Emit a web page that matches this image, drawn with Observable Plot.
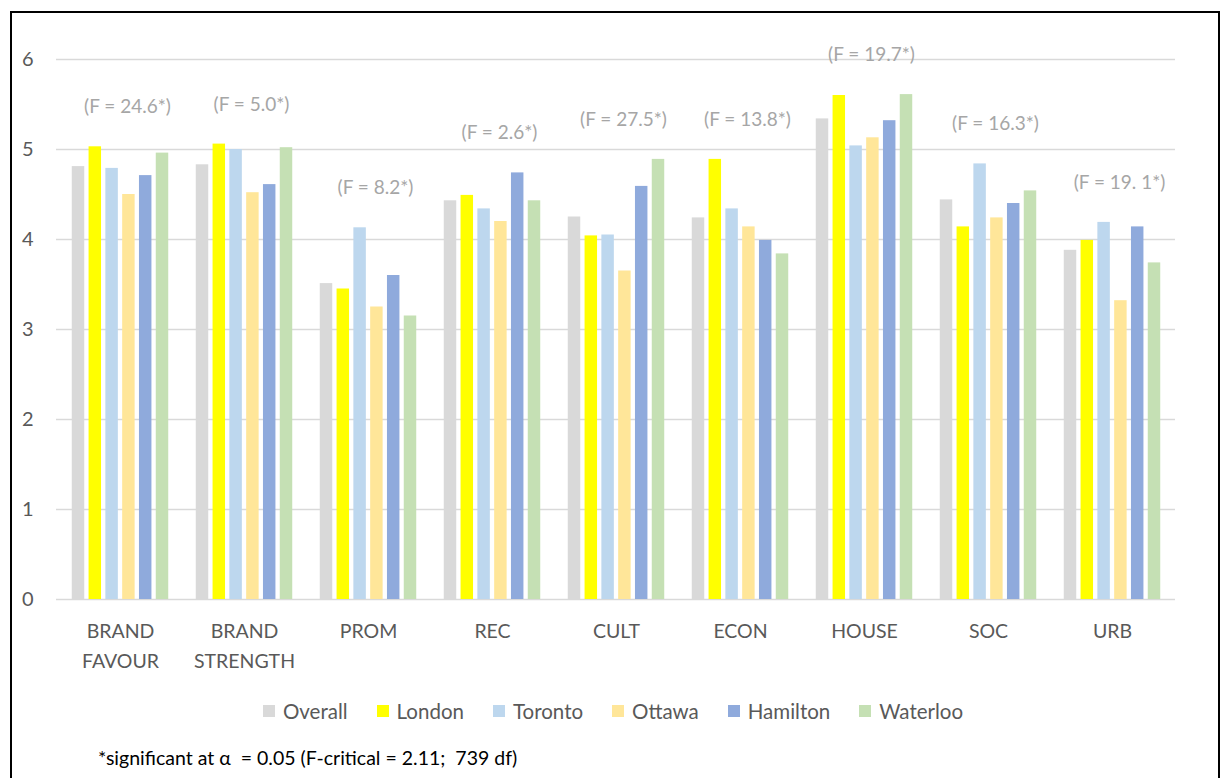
<!DOCTYPE html>
<html>
<head>
<meta charset="utf-8">
<script src="https://cdn.jsdelivr.net/npm/d3@7"></script>
<script src="https://cdn.jsdelivr.net/npm/@observablehq/plot@0.6"></script>
<style>
  html, body { margin: 0; padding: 0; background: #fff; }
  body { width: 1224px; height: 778px; position: relative; overflow: hidden; font-family: Lato, "Open Sans", sans-serif; }
  #frame { position: absolute; left: 10px; top: 11px; width: 1210px; height: 800px; border: 2px solid #000; box-sizing: border-box; }
  #chart { position: absolute; left: 0; top: 0; }
  #legend { position: absolute; left: 0; width: 1226px; top: 699px; display: flex; justify-content: center; gap: 29px; font-size: 20.5px; color: #595959; }
  #legend .item { display: flex; align-items: center; gap: 8px; }
  #legend .sw { width: 12px; height: 12px; display: inline-block; }
  #note { position: absolute; left: 98px; top: 746px; font-size: 19.5px; color: #000; }
</style>
</head>
<body>
<div id="frame"></div>
<div id="chart"></div>
<div id="legend"></div>
<div id="note">*significant at α&nbsp; = 0.05 (F-critical = 2.11;&nbsp; 739 df)</div>
<script>
const categories = ["BRAND\nFAVOUR", "BRAND\nSTRENGTH", "PROM", "REC", "CULT", "ECON", "HOUSE", "SOC", "URB"];
const series = ["Overall", "London", "Toronto", "Ottawa", "Hamilton", "Waterloo"];
const overall  = [4.81, 4.83, 3.51, 4.43, 4.25, 4.24, 5.34, 4.44, 3.88];
const london   = [5.03, 5.06, 3.45, 4.49, 4.04, 4.89, 5.60, 4.14, 3.99];
const toronto  = [4.79, 5.00, 4.13, 4.34, 4.05, 4.34, 5.04, 4.84, 4.19];
const ottawa   = [4.50, 4.52, 3.25, 4.20, 3.65, 4.14, 5.13, 4.24, 3.32];
const hamilton = [4.71, 4.61, 3.60, 4.74, 4.59, 3.99, 5.32, 4.40, 4.14];
const waterloo = [4.96, 5.02, 3.15, 4.43, 4.89, 3.84, 5.61, 4.54, 3.74];
const fStats   = ["24.6", "5.0", "8.2", "2.6", "27.5", "13.8", "19.7", "16.3", "19. 1"];
const yTicks   = [0, 1, 2, 3, 4, 5, 6];
const colors   = ["#d9d9d9", "#ffff00", "#bdd7ee", "#ffe699", "#8faadc", "#c5e0b4"];

const valuesBySeries = [overall, london, toronto, ottawa, hamilton, waterloo];
const rows = [];
series.forEach((s, i) => categories.forEach((c, j) => rows.push({series: s, category: c, value: valuesBySeries[i][j]})));
const fRows = categories.map((c, j) => ({
  category: c,
  f: fStats[j],
  top: d3.max(valuesBySeries, v => v[j])
}));

const W = 1224, H = 690;
const mL = 56, mR = 49;
const step = (W - mL - mR) / categories.length;
const pitch = 16.8, barW = 12.8;
const inset = (step - barW) / 2;

const marks = [
  Plot.ruleY(yTicks, {stroke: "#d9d9d9", strokeWidth: 1.6}),
  ...series.map((s, i) => Plot.barY(rows.filter(d => d.series === s), {
    x: "category", y: "value", fill: colors[i],
    insetLeft: inset, insetRight: inset, dx: (i - 2.5) * pitch
  })),
  Plot.text(fRows, {x: "category", y: d => d.top + 0.44, text: d => `(F = ${d.f}*)`, fill: "#a6a6a6", fontSize: 19, dx: 7}),
  Plot.axisY({ticks: yTicks, tickFormat: "d", tickSize: 0, tickPadding: 23, fontSize: 20, fill: "#595959", label: null}),
  Plot.axisX({tickSize: 0, tickPadding: 18, fontSize: 19.5, fill: "#595959", lineHeight: 1.5, label: null})
];

const chart = Plot.plot({
  width: W, height: H,
  marginLeft: mL, marginRight: mR, marginTop: 59, marginBottom: H - 599,
  x: {domain: categories, padding: 0, label: null},
  y: {domain: [0, 6], label: null},
  style: {fontFamily: "Lato, 'Open Sans', sans-serif", background: "transparent"},
  marks
});
document.getElementById("chart").appendChild(chart);

const legend = document.getElementById("legend");
series.forEach((s, i) => {
  const it = document.createElement("span");
  it.className = "item";
  it.innerHTML = `<span class="sw" style="background:${colors[i]}"></span><span>${s}</span>`;
  legend.appendChild(it);
});
</script>
</body>
</html>
